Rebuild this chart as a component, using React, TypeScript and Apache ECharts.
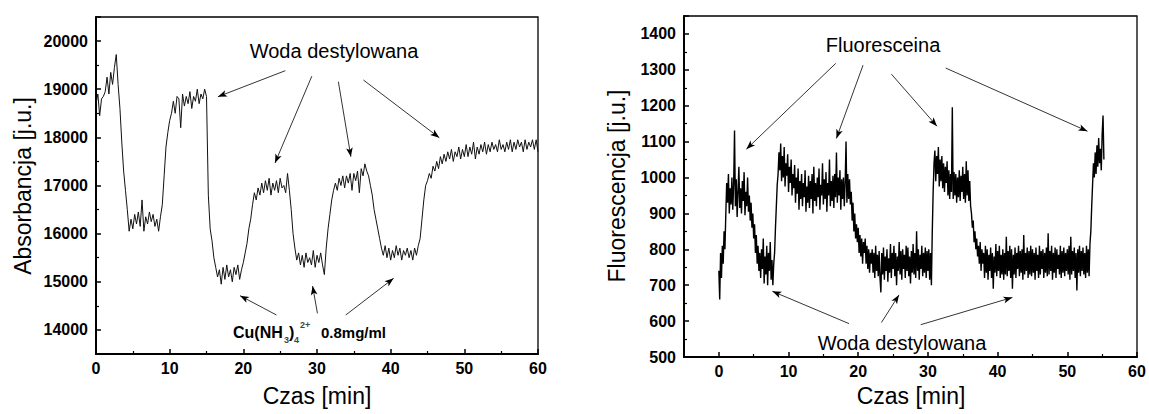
import React, { useEffect, useRef } from "react";
import * as echarts from "echarts";

// ---------- Left panel: absorbance vs time (sampling every 0.25 min) ----------
const absStepMin = 0.25;
const absorbance = [
  18700, 18900, 18450, 18800,
  18850, 18950, 19250, 18900,
  19350, 19100, 19450, 19720,
  19100, 18600, 17900, 17300,
  16900, 16500, 16050, 16300,
  16100, 16400, 16200, 16450,
  16150, 16700, 16050, 16350,
  16200, 16450, 16250, 16400,
  16150, 16300, 16050, 16350,
  16600, 17200, 17800, 18100,
  18350, 18500, 18750, 18500,
  18850, 18800, 18200, 18900,
  18650, 18850, 18700, 18950,
  18600, 18850, 18750, 19000,
  18700, 18900, 18800, 19000,
  18850, 16800, 16100, 15850,
  15500, 15300, 15100, 15250,
  14950, 15300, 15050, 15350,
  15100, 15250, 15000, 15300,
  15150, 15350, 15050, 15250,
  15400, 15600, 15800, 16100,
  16300, 16600, 16850, 16700,
  16950, 16800, 17050, 16850,
  17100, 16900, 17150, 16800,
  17050, 16900, 17100, 16850,
  17150, 16950, 17000, 16850,
  17250, 16900, 16500, 16000,
  15700, 15450, 15600, 15350,
  15550, 15300, 15600, 15400,
  15500, 15350, 15650, 15300,
  15550, 15400, 15600, 15350,
  15150, 15700, 16100, 16400,
  16700, 16900, 17050, 16900,
  17150, 17000, 17200, 16950,
  17200, 17050, 17250, 16900,
  17250, 17100, 17300, 16850,
  17350, 17200, 17450, 17300,
  17200, 17000, 16800, 16500,
  16300, 16100, 15900, 15700,
  15550, 15750, 15500, 15700,
  15450, 15650, 15500, 15750,
  15550, 15700, 15450, 15650,
  15550, 15700, 15500, 15650,
  15450, 15700, 15550, 15750,
  15900, 16300, 16700, 17000,
  17100, 17250, 17150, 17400,
  17300, 17500, 17350, 17600,
  17450, 17650, 17500, 17700,
  17550, 17750, 17500, 17700,
  17600, 17800, 17550, 17750,
  17600, 17850, 17600, 17800,
  17650, 17900, 17550, 17800,
  17650, 17850, 17700, 17900,
  17650, 17850, 17700, 17900,
  17750, 17850, 17700, 17950,
  17750, 17850, 17700, 17900,
  17750, 17950, 17700, 17900,
  17750, 17950, 17800, 17900,
  17700, 17950, 17750, 17900,
  17800, 17950, 17750, 17950,
  17700,
];

// ---------- Right panel: fluorescence vs time (sampling every 0.125 min) ----------
const fluoStepMin = 0.125;
const fluorescence = [
  740, 660, 790, 720, 810, 760, 850, 800,
  900, 985, 930, 1010, 900, 970, 925, 1000,
  910, 980, 1131, 920, 995, 890, 960, 1030,
  915, 970, 900, 990, 935, 1015, 895, 960,
  920, 1000, 905, 950, 880, 930, 860, 900,
  830, 870, 790, 840, 760, 810, 740, 790,
  720, 800, 745, 830, 705, 780, 730, 810,
  700, 790, 740, 820, 715, 770, 700, 760,
  790, 860, 920, 980, 1010, 1070, 1020, 1095,
  990, 1060, 1000, 1085, 975, 1040, 1005, 1065,
  960, 1030, 985, 1050, 950, 1010, 970, 1035,
  930, 1000, 955, 1025, 910, 990, 940, 1010,
  920, 985, 945, 1020, 905, 975, 930, 1005,
  915, 990, 940, 1010, 900, 1030, 935, 985,
  920, 1000, 945, 1025, 910, 980, 950, 1040,
  925, 995, 940, 1015, 905, 985, 950, 1050,
  920, 990, 935, 1005, 915, 1010, 945, 1070,
  930, 1000, 950, 1020, 910, 995, 940, 1000,
  920, 985, 1100, 930, 1010, 940, 995, 925,
  960, 880, 930, 850, 900, 830, 870, 820,
  860, 790, 840, 780, 830, 760, 820, 790,
  830, 760, 810, 745, 800, 735, 790, 760,
  800, 735, 790, 720, 810, 740, 785, 725,
  795, 720, 680, 790, 730, 805, 715, 780,
  740, 800, 710, 775, 735, 815, 720, 790,
  745, 810, 725, 790, 700, 780, 740, 820,
  730, 795, 715, 800, 745, 785, 720, 810,
  740, 805, 725, 780, 705, 795, 735, 815,
  730, 790, 720, 850, 740, 800, 715, 785,
  745, 810, 725, 790, 735, 805, 720, 795,
  740, 800, 715, 790, 700, 850, 960, 1040,
  1075, 990, 1060, 1010, 1085, 975, 1050, 990,
  1060, 970, 1040, 960, 1030, 985, 1045, 950,
  1020, 940, 1010, 960, 1196, 940, 1015, 950,
  1010, 930, 1000, 945, 1020, 935, 1005, 960,
  1030, 940, 1010, 930, 1045, 950, 1020, 935,
  990, 920, 900, 860, 880, 820, 850, 800,
  830, 780, 810, 760, 820, 740, 800, 760,
  790, 720, 810, 735, 800, 715, 785, 740,
  805, 720, 790, 690, 780, 735, 815, 725,
  795, 740, 810, 720, 785, 730, 800, 715,
  790, 730, 835, 725, 795, 740, 810, 720,
  800, 690, 785, 730, 805, 720, 790, 745,
  810, 725, 795, 735, 800, 715, 840, 730,
  790, 740, 805, 720, 795, 730, 810, 725,
  800, 735, 790, 715, 805, 740, 785, 720,
  810, 730, 795, 745, 800, 720, 790, 735,
  805, 725, 845, 730, 795, 740, 810, 715,
  790, 735, 805, 720, 800, 745, 785, 730,
  810, 720, 795, 735, 805, 725, 790, 740,
  800, 730, 810, 715, 835, 730, 795, 740,
  805, 720, 790, 685, 800, 735, 810, 725,
  795, 740, 805, 730, 790, 720, 810, 735,
  800, 725, 815, 850, 920, 980, 1040, 1000,
  1070, 1010, 1090, 1030, 1110, 1040, 1080, 1020,
  1120, 1173, 1050,
];

// ---------- Annotation arrows (tail -> head, in data coordinates) ----------
const absWaterArrows = [
  [[25.7, 19385], [16.55, 18844]],
  [[29.3, 19271], [24.3, 17468]],
  [[32.9, 19156], [34.6, 17598]],
  [[36.3, 19191], [46.6, 17993]],
];
const absCuArrows = [
  [[24.5, 14310], [19.55, 14711]],
  [[30.06, 14345], [29.4, 14912]],
  [[33.9, 14310], [40.4, 15072]],
];
const fluoDyeArrows = [
  [[16.77, 1318], [3.95, 1079]],
  [[20.69, 1313], [16.87, 1109]],
  [[24.76, 1288], [31.3, 1143]],
  [[32.55, 1305], [52.89, 1129]],
];
const fluoWaterArrows = [
  [[18.68, 593], [7.68, 683]],
  [[23.33, 596], [25.85, 673]],
  [[28.97, 590], [42.12, 666]],
];

const FONT = "'Liberation Sans', Arial, Helvetica, sans-serif";

function toPairs(values: number[], step: number) {
  return values.map((v, i) => [Math.round(i * step * 1000) / 1000, v]);
}

function arrowMarkLine(arrows: number[][][]) {
  return {
    silent: true,
    symbol: ["none", "arrow"],
    symbolSize: [5, 9],
    lineStyle: { color: "#000", width: 0.8, type: "solid", opacity: 1 },
    label: { show: false },
    emphasis: { disabled: true },
    animation: false,
    data: arrows.map(([a, b]) => [{ coord: a }, { coord: b }]),
  };
}

function txt(text: string, x: number, y: number, fontSize: number, opts: any = {}) {
  return {
    type: "text",
    x,
    y,
    rotation: opts.rotation || 0,
    silent: true,
    style: {
      text,
      fill: opts.fill || "#000",
      fontSize,
      fontFamily: FONT,
      fontWeight: opts.bold ? "bold" : "normal",
      align: opts.align || "center",
      verticalAlign: "middle",
      textAlign: opts.align || "center",
      textVerticalAlign: "middle",
    },
  };
}

const axisCommon = {
  axisLine: { show: true, onZero: false, lineStyle: { color: "#000", width: 2 } },
  axisTick: { show: true, inside: true, length: 5, lineStyle: { color: "#000", width: 1.5 } },
  minorTick: { show: true, splitNumber: 2, length: 3, lineStyle: { color: "#000", width: 1.2 } },
  splitLine: { show: false },
  minorSplitLine: { show: false },
};

const labelStyle = {
  color: "#000",
  fontSize: 16,
  fontWeight: "bold" as const,
  fontFamily: FONT,
};

export default function App() {
  const ref = useRef<HTMLDivElement>(null);

  useEffect(() => {
    document.body.style.margin = "0";
    const chart = echarts.init(ref.current!, null, { renderer: "svg" });

    const option: any = {
      animation: false,
      backgroundColor: "#fff",
      grid: [
        { left: 96, top: 17, width: 442, height: 337, show: true, borderColor: "#000", borderWidth: 1.3, backgroundColor: "transparent" },
        { left: 684, top: 16, width: 453, height: 341, show: true, borderColor: "#000", borderWidth: 1.3, backgroundColor: "transparent" },
      ],
      xAxis: [
        {
          ...axisCommon,
          type: "value",
          gridIndex: 0,
          min: 0,
          max: 60,
          interval: 10,
          axisLabel: { ...labelStyle, margin: 6 },
        },
        {
          ...axisCommon,
          type: "value",
          gridIndex: 1,
          min: -5,
          max: 60,
          splitNumber: 6,
          axisLabel: {
            ...labelStyle,
            margin: 6,
            formatter: (v: number) => (v % 10 === 0 ? String(v) : ""),
          },
        },
      ],
      yAxis: [
        {
          ...axisCommon,
          type: "value",
          gridIndex: 0,
          min: 13500,
          max: 20500,
          splitNumber: 7,
          axisLabel: {
            ...labelStyle,
            margin: 8,
            formatter: (v: number) => (v % 1000 === 0 ? String(v) : ""),
          },
        },
        {
          ...axisCommon,
          type: "value",
          gridIndex: 1,
          min: 500,
          max: 1450,
          interval: 100,
          axisLabel: {
            ...labelStyle,
            margin: 8,
            formatter: (v: number) => (v % 100 === 0 ? String(v) : ""),
          },
        },
      ],
      series: [
        {
          type: "line",
          xAxisIndex: 0,
          yAxisIndex: 0,
          data: toPairs(absorbance, absStepMin),
          showSymbol: false,
          symbol: "none",
          lineStyle: { color: "#111", width: 1 },
          silent: true,
          markLine: arrowMarkLine([...absWaterArrows, ...absCuArrows]),
        },
        {
          type: "line",
          xAxisIndex: 1,
          yAxisIndex: 1,
          data: toPairs(fluorescence, fluoStepMin),
          showSymbol: false,
          symbol: "none",
          lineStyle: { color: "#000", width: 1.4 },
          silent: true,
          markLine: arrowMarkLine([...fluoDyeArrows, ...fluoWaterArrows]),
        },
      ],
      graphic: [
        txt("Absorbancja [j.u.]", 23, 186, 23, { rotation: Math.PI / 2 }),
        txt("Czas [min]", 317, 396, 23),
        txt("Fluorescencja [j.u.]", 617, 186, 23, { rotation: Math.PI / 2 }),
        txt("Czas [min]", 911, 396, 23),
        txt("Woda destylowana", 334, 51, 20),
        txt("Fluoresceina", 883, 45, 20),
        txt("Woda destylowana", 902, 343, 20),
        txt("Cu(NH", 233, 332, 16, { bold: true, align: "left" }),
        txt("3", 284, 340, 9, { bold: true, align: "left", fill: "#444" }),
        txt(")", 289, 332, 16, { bold: true, align: "left" }),
        txt("4", 294, 340, 9, { bold: true, align: "left", fill: "#444" }),
        txt("2+", 300, 325, 9, { bold: true, align: "left", fill: "#444" }),
        txt("0.8mg/ml", 321, 332, 15, { bold: true, align: "left" }),
      ],
    };

    chart.setOption(option);
    return () => chart.dispose();
  }, []);

  return <div ref={ref} style={{ width: 1149, height: 414 }} />;
}
